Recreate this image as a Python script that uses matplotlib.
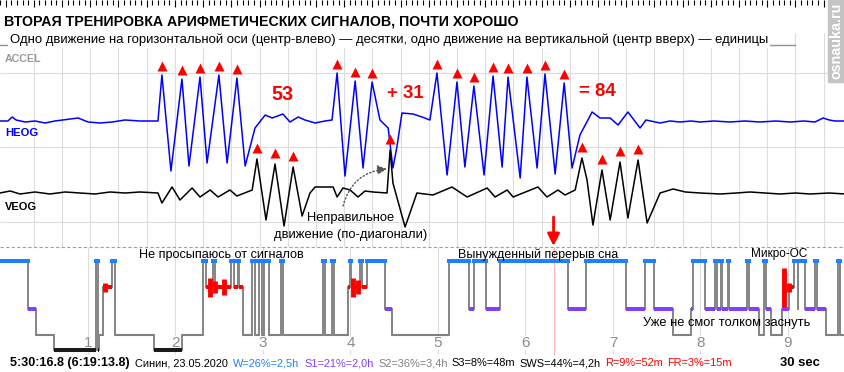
import matplotlib.pyplot as plt
import numpy as np

plt.rcParams['font.family'] = ['Liberation Sans', 'DejaVu Sans']

# ---- 30 s EOG window: (time s, amplitude uV) ----
heog = [
    (-0.20, 4), (0.08, 4), (0.23, 20), (0.37, 8), (0.69, 0), (1.04, 4), (1.40, -4), (1.75, 4),
    (2.29, 12), (2.57, 16), (2.92, 0), (3.35, -4), (3.78, 0), (4.23, 8), (4.76, 4), (5.30, 4), (5.40, 4),
    # five horizontal movements (tens)
    (5.54, 188), (5.86, -196), (6.25, 172), (6.50, -176), (6.89, 180), (7.14, -164),
    (7.56, 188), (7.85, -164), (8.20, 176), (8.49, -176),
    (8.84, -24), (9.20, 28), (9.45, 16), (9.83, 32), (10.08, 0), (10.37, 20), (10.61, 8),
    (10.97, -4), (11.32, 4), (11.57, 8),
    # three
    (11.75, 196), (12.03, -216), (12.39, 164), (12.67, -184), (12.99, 160),
    (13.27, 8), (13.56, -24), (13.73, -184), (13.87, -100), (14.05, 36), (14.44, 32), (14.76, 20), (15.04, 8),
    # eight
    (15.29, 196), (15.65, -212), (16.00, 160), (16.28, -180), (16.60, 144), (16.96, -212),
    (17.28, 184), (17.60, -180), (17.81, 180), (18.24, -224), (18.48, 180), (18.84, -184),
    (19.12, 192), (19.48, -208), (19.80, 156), (20.08, -184),
    (20.36, -52), (20.79, 40), (21.07, 16), (21.43, 16), (21.71, -12), (22.06, 40), (22.49, -24),
    (22.70, 8), (23.20, -4), (23.55, 4), (23.91, 0), (24.30, 4), (24.62, 0), (25.10, 4), (25.68, 0),
    (26.20, 4), (26.74, 0), (27.30, 4), (27.81, 0), (28.30, 4), (28.69, 0), (28.98, 16), (29.20, 8),
    (29.40, 4), (29.76, 4),
]
veog = [
    (-0.20, 0), (0.16, 8), (0.51, -4), (1.04, 4), (1.57, -4), (2.11, 4), (2.64, 0), (3.17, -4),
    (3.70, 4), (4.23, 0), (4.76, 4), (5.40, 0),
    (5.54, -40), (5.90, 24), (6.18, -28), (6.61, 20), (6.89, -16), (7.25, 12), (7.53, -16),
    (7.95, 12), (8.20, -12), (8.74, 12),
    # three vertical movements (units)
    (8.91, 136), (9.23, -108), (9.55, 116), (9.87, -132), (10.19, 104), (10.51, -92),
    (10.79, 0), (10.97, 24), (11.61, 24), (11.75, -16), (11.96, 20), (12.21, 12), (12.49, -16),
    (12.74, 8), (13.02, 4), (13.52, 0),
    # wrong diagonal movement
    (13.63, 172), (13.73, 40), (14.16, -136), (14.58, 0), (15.15, -8),
    (15.82, 24), (16.36, -16), (17.07, 20), (17.35, -16), (17.78, 12), (17.99, -16), (18.87, 24),
    (19.19, -16), (19.58, 12), (19.83, -8), (20.19, 12),
    # four
    (20.43, 140), (20.61, 52), (20.82, -128), (21.14, 92), (21.43, -108), (21.78, 124), (22.06, -100),
    (22.42, 132), (22.74, -120),
    (23.20, 0), (23.66, 16), (24.10, 4), (24.62, 0), (25.33, -4), (25.90, 0), (26.39, 4),
    (27.45, -4), (28.00, 0), (28.52, -4), (29.20, 0), (29.76, -4),
]
heog_marks = [5.54, 6.25, 6.89, 7.56, 8.20, 11.75, 12.39, 12.99,
              15.29, 16.00, 16.60, 17.28, 17.81, 18.48, 19.12, 19.80]
veog_marks = [8.91, 9.55, 10.19, 13.63, 20.43, 21.14, 21.78, 22.42]
accel_t = [-0.20, 27.98]
accel_uv = [0, 0]

# ---- hypnogram: stage start (hours) ----
hyp_h = [0.000, 0.309, 0.411, 0.617, 1.086, 1.109, 1.131, 1.177, 1.280, 1.303, 1.749, 2.069,
         2.320, 2.343, 2.434, 2.457, 2.640, 2.663, 2.709, 2.731, 2.777, 2.880, 2.903, 2.960,
         2.983, 3.017, 3.063, 3.211, 3.234, 3.691, 3.714, 3.794, 3.817, 3.966, 3.989, 4.011,
         4.103, 4.126, 4.194, 4.389, 4.469, 5.131, 5.360, 5.406, 5.543, 5.703, 6.491, 6.686,
         7.143, 7.371, 7.474, 7.691, 7.886, 7.909, 8.057, 8.171, 8.194, 8.229, 8.251, 8.309,
         8.331, 8.537, 8.560, 8.674, 8.731, 8.754, 8.811, 8.937, 9.006, 9.074, 9.109, 9.120,
         9.189, 9.303, 9.326, 9.429, 9.577, 9.600]
hyp_stage = ['W', 'S1', 'S2', 'S3', 'W', 'S3', 'S2', 'R', 'W', 'S2', 'S3', 'S2',
             'W', 'R', 'W', 'R', 'W', 'R', 'W', 'R', 'S2', 'W', 'S2', 'W',
             'S2', 'W', 'S2', 'W', 'S2', 'W', 'S2', 'W', 'S2', 'R', 'W', 'R',
             'W', 'R', 'W', 'S1', 'S2', 'W', 'S1', 'W', 'S1', 'W', 'S1', 'W',
             'S1', 'W', 'S1', 'S2', 'S1', 'W', 'S1', 'W', 'S1', 'W', 'S1', 'W',
             'S1', 'W', 'S1', 'S2', 'W', 'S1', 'S2', 'S1', 'R', 'W', 'S1', 'W',
             'S1', 'W', 'S1', 'S2', 'W', 'S2']
hyp_end_h = 9.657
rem_h = [1.189, 2.40, 2.45, 2.56, 4.03, 4.09, 8.949, 9.017]
rem_density = [9, 19, 12, 16, 19, 14, 39, 9]
cursor_h = 6 + 19 / 60 + 13.8 / 3600
hours = list(range(1, 10))

title = "ВТОРАЯ ТРЕНИРОВКА АРИФМЕТИЧЕСКИХ СИГНАЛОВ, ПОЧТИ ХОРОШО"
subtitle = ("Одно движение на горизонтальной оси (центр-влево) — десятки, "
            "одно движение на вертикальной (центр вверх) — единицы")
stats = [("Синин, 23.05.2020", "black"), ("W=26%=2,5h", "#1e80ff"), ("S1=21%=2,0h", "#8040ff"),
         ("S2=36%=3,4h", "#808080"), ("S3=8%=48m", "black"), ("SWS=44%=4,2h", "black"),
         ("R=9%=52m", "red"), ("FR=3%=15m", "red")]

# ---- layout ----
W_PX, H_PX = 845, 372
PX_PER_S, T0_PX = 28.21, 5.6
PX_PER_H = 87.5
SIG_BOTTOM = 247
HEOG_ROW, VEOG_ROW, ACCEL_ROW = 122, 193, 44.5
UV_PER_PX = 4
STAGE_ROW = {'W': 261, 'R': 287, 'S1': 309, 'S2': 335, 'S3': 350}
STAGE_COL = {'W': '#1e80ff', 'R': '#ff0000', 'S1': '#8040ff', 'S2': '#808080', 'S3': '#1a1a1a'}
STAGE_LW = {'W': 2.9, 'R': 2.9, 'S1': 2.9, 'S2': 1.5, 'S3': 2.9}
GRID = '#dcdcdc'
GROW = 1.14  # source font is condensed; trade a little width for height

fig = plt.figure(figsize=(8.45, 3.72), dpi=100)
fig.patch.set_facecolor('white')

# signal panel
ax = fig.add_axes([0, 1 - SIG_BOTTOM / H_PX, 1, SIG_BOTTOM / H_PX])
ax.set_xlim(-T0_PX / PX_PER_S, (W_PX - T0_PX) / PX_PER_S)
ax.set_ylim(SIG_BOTTOM, 0)
ax.patch.set_visible(False)
for sp in ax.spines.values():
    sp.set_visible(False)
ax.set_yticks([])
ax.xaxis.set_ticks_position('top')
ax.set_xticks(np.arange(0, 30, 1))
ax.set_xticks(np.arange(-0.2, 29.8, 0.2), minor=True)
ax.tick_params(axis='x', which='major', direction='in', length=5, width=0.8,
               labeltop=False, labelbottom=False)
ax.tick_params(axis='x', which='minor', direction='in', length=3.5, width=0.8)

ax.vlines(np.arange(1, 30), 33, SIG_BOTTOM, color=GRID, lw=0.8, zorder=0)
ax.hlines([73, 147, 222], *ax.get_xlim(), color=GRID, lw=0.8, zorder=0)

ax.plot(accel_t, ACCEL_ROW - np.array(accel_uv) / UV_PER_PX, color='#909090', lw=1.0)
ht, hv = zip(*heog)
vt, vv = zip(*veog)
ax.plot(ht, HEOG_ROW - np.array(hv) / UV_PER_PX, color='#0000ff', lw=1.1)
ax.plot(vt, VEOG_ROW - np.array(vv) / UV_PER_PX, color='black', lw=1.1)
ax.plot(heog_marks, HEOG_ROW - np.interp(heog_marks, ht, hv) / UV_PER_PX - 9,
        ls='none', marker='^', ms=7.5, color='red', mec='none')
ax.plot(veog_marks, VEOG_ROW - np.interp(veog_marks, vt, vv) / UV_PER_PX - 11,
        ls='none', marker='^', ms=7.5, color='red', mec='none')

# hypnogram panel
axh = fig.add_axes([0, 0, 1, (H_PX - SIG_BOTTOM) / H_PX])
axh.set_xlim(-0.5 / PX_PER_H, (W_PX - 0.5) / PX_PER_H)
axh.set_ylim(H_PX, SIG_BOTTOM)
axh.axis('off')
axh.vlines(hours, SIG_BOTTOM, 354, color=GRID, lw=0.8, zorder=0)
for h in hours:
    axh.text(h, 343, str(h), ha='center', va='center', color='#8c8c8c', fontsize=11,
             bbox=dict(fc='white', ec='none', pad=0.3), zorder=1)
axh.vlines(cursor_h, SIG_BOTTOM, 355, color='#ffb4b4', lw=0.8, zorder=1)

for i, st in enumerate(hyp_stage):
    t0 = hyp_h[i]
    t1 = hyp_h[i + 1] if i + 1 < len(hyp_h) else hyp_end_h
    axh.plot([t0, t1], [STAGE_ROW[st]] * 2, color=STAGE_COL[st], lw=STAGE_LW[st],
             solid_capstyle='projecting' if st == 'W' else 'butt', zorder=3)
    if i + 1 < len(hyp_h):
        axh.plot([t1, t1], [STAGE_ROW[st], STAGE_ROW[hyp_stage[i + 1]]],
                 color='#858585', lw=1.4, zorder=2)
rem = np.array(rem_density)
axh.vlines(rem_h, STAGE_ROW['R'] - rem / 2, STAGE_ROW['R'] + rem / 2, color='red', lw=3.5, zorder=4)

axh.annotate('', xy=(cursor_h, 246), xytext=(cursor_h, 217), annotation_clip=False,
             arrowprops=dict(arrowstyle='-|>', color='red', lw=2, mutation_scale=18,
                             shrinkA=0, shrinkB=0))

# overlay in pixel units for texts
ov = fig.add_axes([0, 0, 1, 1])
ov.set_xlim(0, W_PX)
ov.set_ylim(H_PX, 0)
ov.axis('off')
ov.patch.set_visible(False)
ov.plot([0, W_PX], [247, 247], color='#a0a0a0', lw=0.8, ls=(0, (3, 2)))

renderer = fig.canvas.get_renderer()


def label(x0, x1, y, s, grow=1.0, vertical=False, ha='center', **kw):
    xa = {'center': (x0 + x1) / 2, 'left': x0, 'right': x1}[ha]
    t = ov.text(xa, y, s, ha=ha, va='center', fontsize=10, **kw)
    bb = t.get_window_extent(renderer)
    cur = bb.height if vertical else bb.width
    t.set_fontsize(10 * grow * (x1 - x0) / cur)
    return t


label(6, 517, 22, title, fontweight='bold')
label(6, 772, 40, subtitle, bbox=dict(fc='white', ec='none', pad=1.5))
label(5, 37, 59, "ACCEL", GROW, ha='left', color='#9a9a9a', fontweight='bold')
label(5, 34, 132.5, "HEOG", GROW, ha='left', color='#0000ff', fontweight='bold')
label(5, 33, 207, "VEOG", GROW, ha='left', color='black', fontweight='bold')
label(271, 293, 94, "53", color='red', fontweight='bold')
label(387, 424, 93.5, "+ 31", color='red', fontweight='bold')
label(579, 616, 91.5, "= 84", color='red', fontweight='bold')
label(307, 395, 218, "Неправильное")
label(274, 428, 235, "движение (по-диагонали)")
ov.annotate('', xy=(387, 169), xytext=(343, 206),
            arrowprops=dict(arrowstyle='-|>', color='#555555', lw=1, ls=':',
                            mutation_scale=14, shrinkA=0, shrinkB=0,
                            connectionstyle='arc3,rad=-0.35'))

label(149, 294, 255, "Не просыпаюсь от сигналов", GROW)
label(468, 609, 255, "Вынужденный перерыв сна", GROW)
label(757, 802, 254, "Микро-ОС", 1.25)
label(653, 801, 323, "Уже не смог толком заснуть", GROW)

label(10, 125, 363, "5:30:16.8 (6:19:13.8)", 1.04, ha='left', fontweight='bold')
label(785, 820, 363, "30 sec", GROW, ha='right', fontweight='bold')

# stats row laid out left to right
texts = [ov.text(0, 363, s, color=c, fontsize=10, va='center') for s, c in stats]
widths = [t.get_window_extent(renderer).width for t in texts]
gap = 4
scale = 1.06 * (696 - 131 - gap * (len(texts) - 1)) / sum(widths)
x = 135
for t, w in zip(texts, widths):
    t.set_fontsize(10 * scale)
    t.set_x(x)
    x += w * scale + gap

# watermark
ov.add_patch(plt.Rectangle((828, 0), 17, 82, color='#c4c4c4', zorder=5))
wm = label(798, 874, 41, "osnauka.ru", vertical=True, rotation=90, color='white',
           fontweight='bold', zorder=6)
wm.set_x(836.5)

fig.savefig('out.png', dpi=100, facecolor='white')
